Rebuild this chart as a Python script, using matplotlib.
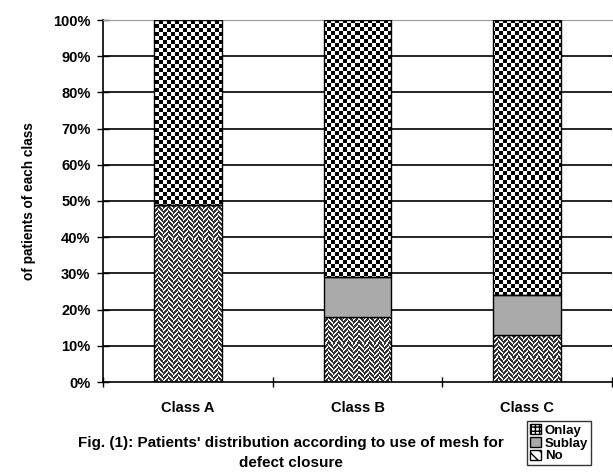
import numpy as np
import matplotlib
matplotlib.use("Agg")
import matplotlib.pyplot as plt
from matplotlib.patches import Patch

plt.rcParams['font.family'] = ['Liberation Sans', 'DejaVu Sans']
plt.rcParams['font.weight'] = 'bold'
plt.rcParams['hatch.linewidth'] = 1.0

# ── data ──
classes = ['Class A', 'Class B', 'Class C']
no_pct = [49, 18, 13]
sublay_pct = [0, 11, 11]
onlay_pct = [51, 71, 76]
yticks = np.arange(0, 101, 10)


def checker_texture(h, w, cell=4):
    yy, xx = np.mgrid[0:h, 0:w]
    return ((xx // cell + yy // cell) % 2).astype(float)


def herringbone_texture(h, w, col=5, step=5, width=2):
    # columns of diagonal stripes, direction alternating per column
    yy, xx = np.mgrid[0:h, 0:w]
    c = (xx // col) % 2
    d = np.where(c == 0, xx + yy, xx - yy + 10000)
    band = (d % step) < width
    return np.where(band, 1.0, 0.2)


fig = plt.figure(figsize=(6.13, 4.74), dpi=100)
W, H = 613, 474
ax = fig.add_axes([103 / W, 1 - 382 / H, (612 - 103) / W, (382 - 20) / H])

x = np.arange(len(classes))
bw = 0.4
no_bars = ax.bar(x, no_pct, bw, color='none', edgecolor='black', linewidth=1.0, zorder=3)
sub_bars = ax.bar(x, sublay_pct, bw, bottom=no_pct, color='#aaaaaa',
                  edgecolor='black', linewidth=1.0, zorder=3)
bottoms = np.array(no_pct) + np.array(sublay_pct)
on_bars = ax.bar(x, onlay_pct, bw, bottom=bottoms, color='none',
                 edgecolor='black', linewidth=1.0, zorder=3)

# textured fills, clipped to each bar
px_w, px_h = 509, 362
ext = (-0.5, len(classes) - 0.5, 0, 100)
chk = checker_texture(px_h, px_w, 4)
hb = herringbone_texture(px_h, px_w)
for bar in on_bars:
    im = ax.imshow(chk, cmap='gray', vmin=0, vmax=1, extent=ext, aspect='auto',
                   interpolation='nearest', zorder=2.5)
    im.set_clip_path(bar)
for bar, v in zip(no_bars, no_pct):
    if v <= 0:
        continue
    im = ax.imshow(hb, cmap='gray', vmin=0, vmax=1, extent=ext, aspect='auto',
                   interpolation='nearest', zorder=2.5)
    im.set_clip_path(bar)
ax.set_xlim(-0.5, len(classes) - 0.5)
ax.set_ylim(0, 100)

# gridlines
for t in yticks[1:-1]:
    ax.axhline(t, color='black', linewidth=1.2, zorder=1)

ax.set_yticks(yticks)
ax.set_yticklabels([f'{t}%' for t in yticks], fontsize=10.5, fontweight='bold')
ax.set_xticks(x)
ax.set_xticklabels(classes, fontsize=10.5, fontweight='bold')
ax.tick_params(axis='x', length=0, pad=14)
ax.set_xticks(np.arange(len(classes) + 1) - 0.5, minor=True)
ax.tick_params(axis='x', which='minor', direction='inout', length=7, width=1)
ax.tick_params(axis='y', direction='inout', length=8, width=1, pad=5)

ax.spines['left'].set_linewidth(1.2)
ax.spines['bottom'].set_linewidth(1.2)
ax.spines['top'].set_color('#999999')
ax.spines['right'].set_visible(False)

ax.set_ylabel('of patients of each class', fontsize=9.8, fontweight='bold', labelpad=12)

fig.text(0.475, 1 - 443 / H, "Fig. (1): Patients' distribution according to use of mesh for",
         ha='center', va='center', fontsize=11, fontweight='bold')
fig.text(0.475, 1 - 463 / H, 'defect closure', ha='center', va='center',
         fontsize=11, fontweight='bold')

handles = [Patch(facecolor='white', edgecolor='black', hatch='++++'),
           Patch(facecolor='#aaaaaa', edgecolor='black'),
           Patch(facecolor='white', edgecolor='black', hatch='\\\\\\')]
leg = fig.legend(handles, ['Onlay', 'Sublay', 'No'], loc='upper left',
                 bbox_to_anchor=(527 / W, 1 - 421 / H), fontsize=9.5,
                 frameon=True, fancybox=False, edgecolor='black',
                 handlelength=0.8, handleheight=0.8, handletextpad=0.3,
                 labelspacing=0.0, borderpad=0.25, borderaxespad=0)
leg.get_frame().set_linewidth(1.0)
for t in leg.get_texts():
    t.set_fontweight('bold')

fig.savefig('out.png', dpi=100)
